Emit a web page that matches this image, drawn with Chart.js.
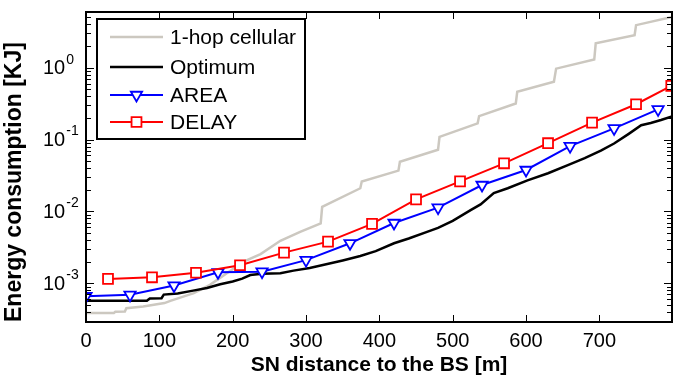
<!DOCTYPE html>
<html>
<head>
<meta charset="utf-8">
<script src="https://cdn.jsdelivr.net/npm/chart.js@4.4.1/dist/chart.umd.min.js"></script>
<style>
  body { margin: 0; background: #fff; }
  canvas { display: block; }
</style>
</head>
<body>
<canvas id="energyChart" width="673" height="376"></canvas>
<script>
// distances (m) and energies (KJ)
const cellularDist = [0, 38, 40, 53, 55, 78, 107, 115, 147, 169, 192, 215, 238, 265, 292, 320, 322, 374, 376, 426, 428, 480, 482, 534, 536, 586, 588, 638, 641, 693, 695, 748, 750, 799];
const cellularEnergy = [3.85e-4, 3.85e-4, 4.0e-4, 4.05e-4, 4.5e-4, 4.75e-4, 5.3e-4, 5.7e-4, 7.3e-4, 9.5e-4, 1.38e-3, 2.0e-3, 2.55e-3, 3.9e-3, 5.2e-3, 6.8e-3, 0.0116, 0.021, 0.026, 0.037, 0.049, 0.072, 0.109, 0.168, 0.212, 0.318, 0.462, 0.637, 0.97, 1.3, 2.18, 2.84, 3.91, 5.1];

const optimumDist = [0, 83, 87, 103, 106, 125, 146, 165, 183, 200, 213, 224, 240, 265, 283, 305, 329, 350, 374, 395, 420, 440, 465, 480, 500, 525, 538, 556, 575, 602, 630, 657, 680, 702, 720, 740, 757, 770, 784, 799];
const optimumEnergy = [5.7e-4, 5.7e-4, 6.15e-4, 6.2e-4, 6.95e-4, 7.2e-4, 7.9e-4, 8.6e-4, 9.7e-4, 1.06e-3, 1.16e-3, 1.3e-3, 1.36e-3, 1.38e-3, 1.5e-3, 1.63e-3, 1.85e-3, 2.08e-3, 2.4e-3, 2.8e-3, 3.6e-3, 4.2e-3, 5.2e-3, 5.9e-3, 7.4e-3, 0.0105, 0.0125, 0.018, 0.021, 0.027, 0.034, 0.044, 0.055, 0.07, 0.088, 0.12, 0.158, 0.17, 0.187, 0.21];

const areaDist = [0, 60, 120, 180, 240, 300, 360, 420, 480, 540, 600, 660, 720, 780];
const areaEnergy = [6.6e-4, 6.9e-4, 9.3e-4, 1.42e-3, 1.45e-3, 2.1e-3, 3.6e-3, 6.9e-3, 0.0113, 0.0233, 0.0377, 0.081, 0.143, 0.263];

const delayDist = [30, 90, 150, 210, 270, 330, 390, 450, 510, 570, 630, 690, 750, 798];
const delayEnergy = [1.15e-3, 1.21e-3, 1.4e-3, 1.78e-3, 2.67e-3, 3.8e-3, 6.7e-3, 0.0147, 0.0262, 0.0467, 0.089, 0.172, 0.31, 0.56];

const xTickValues = [0, 100, 200, 300, 400, 500, 600, 700];
const yDecades = [-3, -2, -1, 0];

const FONT = '"Liberation Sans", Arial, sans-serif';
Chart.defaults.font.family = FONT;
Chart.defaults.color = "#000";

function toPoints(xs, ys) {
  return xs.map((x, i) => ({ x: x, y: ys[i] }));
}

// axes box with inward ticks, like the original figure
const framePlugin = {
  id: "frame",
  afterDraw(chart) {
    const ctx = chart.ctx;
    const area = chart.chartArea;
    const xs = chart.scales.x;
    const ys = chart.scales.y;
    ctx.save();
    ctx.strokeStyle = "#000";
    ctx.lineWidth = 1;
    ctx.beginPath();
    xTickValues.forEach((v) => {
      const px = Math.round(xs.getPixelForValue(v)) + 0.5;
      ctx.moveTo(px, area.bottom);
      ctx.lineTo(px, area.bottom - 7);
      ctx.moveTo(px, area.top);
      ctx.lineTo(px, area.top + 7);
    });
    for (let n = -4; n <= 1; n++) {
      for (let m = 1; m <= 9; m++) {
        const v = m * Math.pow(10, n);
        if (v < ys.min || v > ys.max) continue;
        const py = Math.round(ys.getPixelForValue(v)) + 0.5;
        const len = m === 1 ? 8 : 5;
        ctx.moveTo(area.left, py);
        ctx.lineTo(area.left + len, py);
        ctx.moveTo(area.right, py);
        ctx.lineTo(area.right - len, py);
      }
    }
    ctx.stroke();

    ctx.lineWidth = 2;
    ctx.strokeRect(area.left, area.top, area.right - area.left, area.bottom - area.top);

    // y tick labels 10^n
    ctx.fillStyle = "#000";
    ctx.textAlign = "left";
    ctx.textBaseline = "middle";
    yDecades.forEach((n) => {
      const py = ys.getPixelForValue(Math.pow(10, n));
      ctx.font = "20px " + FONT;
      ctx.fillText("10", 43, py + 1);
      const w = ctx.measureText("10").width;
      ctx.font = "14px " + FONT;
      ctx.fillText(String(n), 43 + w + 1, py - 8);
    });
    ctx.restore();
  },
};

// legend box in the upper left corner
const legendPlugin = {
  id: "boxLegend",
  afterDraw(chart) {
    const ctx = chart.ctx;
    const rowsY = [37, 67, 95, 122];
    ctx.save();
    ctx.fillStyle = "#fff";
    ctx.fillRect(97, 19, 208, 120);
    ctx.strokeStyle = "#000";
    ctx.lineWidth = 2;
    ctx.strokeRect(97, 19, 208, 120);
    chart.data.datasets.forEach((ds, i) => {
      const y = rowsY[i];
      ctx.strokeStyle = ds.borderColor;
      ctx.lineWidth = ds.borderWidth;
      ctx.beginPath();
      ctx.moveTo(110, y);
      ctx.lineTo(163, y);
      ctx.stroke();
      if (ds.pointRadius > 0) {
        ctx.fillStyle = "#fff";
        ctx.strokeStyle = ds.pointBorderColor;
        ctx.lineWidth = ds.pointBorderWidth;
        Chart.helpers.drawPoint(ctx, {
          pointStyle: ds.pointStyle,
          rotation: ds.pointRotation || 0,
          radius: ds.pointRadius,
          borderWidth: ds.pointBorderWidth,
        }, 136.5, y);
      }
      ctx.fillStyle = "#000";
      ctx.font = "21px " + FONT;
      ctx.textAlign = "left";
      ctx.textBaseline = "middle";
      ctx.fillText(ds.label, 170, y + 1);
    });
    ctx.restore();
  },
};

const energyChart = new Chart(document.getElementById("energyChart"), {
  type: "line",
  data: {
    datasets: [
      {
        label: "1-hop cellular",
        data: toPoints(cellularDist, cellularEnergy),
        borderColor: "rgb(204, 200, 192)",
        borderWidth: 2.5,
        pointRadius: 0,
        order: 3,
      },
      {
        label: "Optimum",
        data: toPoints(optimumDist, optimumEnergy),
        borderColor: "#000",
        borderWidth: 2.5,
        pointRadius: 0,
        order: 2,
      },
      {
        label: "AREA",
        data: toPoints(areaDist, areaEnergy),
        borderColor: "#0000ff",
        borderWidth: 2,
        pointStyle: "triangle",
        pointRotation: 180,
        pointRadius: 6.5,
        pointBorderWidth: 1.8,
        pointBorderColor: "#0000ff",
        pointBackgroundColor: "#fff",
        order: 1,
      },
      {
        label: "DELAY",
        data: toPoints(delayDist, delayEnergy),
        borderColor: "#ff0000",
        borderWidth: 2,
        pointStyle: "rect",
        pointRadius: 7,
        pointBorderWidth: 1.8,
        pointBorderColor: "#ff0000",
        pointBackgroundColor: "#fff",
        order: 0,
      },
    ],
  },
  options: {
    responsive: false,
    animation: false,
    devicePixelRatio: 1,
    layout: { autoPadding: false, padding: { top: 12, right: 1, bottom: 0, left: 0 } },
    elements: { line: { tension: 0 } },
    plugins: {
      legend: { display: false },
      tooltip: { enabled: false },
    },
    scales: {
      x: {
        type: "linear",
        min: 0,
        max: 799,
        afterBuildTicks: (scale) => {
          scale.ticks = xTickValues.map((v) => ({ value: v }));
        },
        afterFit: (scale) => {
          scale.height = 54;
          scale.paddingLeft = 0;
          scale.paddingRight = 0;
        },
        grid: { display: false },
        border: { display: false },
        ticks: {
          padding: -1,
          font: { size: 20 },
          color: "#000",
          maxRotation: 0,
          autoSkip: false,
        },
        title: {
          display: true,
          text: "SN distance to the BS [m]",
          font: { size: 21, weight: "bold", lineHeight: 1 },
          padding: { top: 0, bottom: 0 },
          color: "#000",
        },
      },
      y: {
        type: "logarithmic",
        min: 2.89e-4,
        max: 5.96,
        afterFit: (scale) => { scale.width = 86; },
        grid: { display: false },
        border: { display: false },
        ticks: { display: false },
        title: {
          display: true,
          text: "Energy consumption [KJ]",
          align: "start",
          font: { size: 23, weight: "bold", lineHeight: 1 },
          padding: { top: 3, bottom: 0 },
          color: "#000",
        },
      },
    },
  },
  plugins: [framePlugin, legendPlugin],
});
</script>
</body>
</html>
